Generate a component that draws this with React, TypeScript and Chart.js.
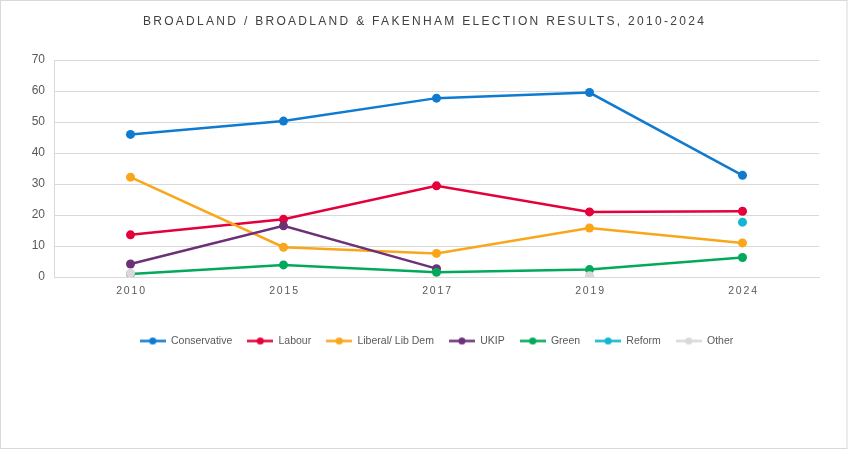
import React, { useEffect, useRef } from "react";
import { Chart, registerables } from "chart.js";

Chart.register(...registerables);

const years = ["2010", "2015", "2017", "2019", "2024"];
const conservative = [46.0, 50.3, 57.7, 59.5, 32.8];
const labour = [13.6, 18.6, 29.4, 21.0, 21.2];
const libDem = [32.2, 9.6, 7.6, 15.8, 11.0];
const ukip = [4.2, 16.5, 2.7, null, null];
const green = [1.0, 3.9, 1.5, 2.4, 6.3];
const reform = [null, null, null, null, 17.7];
const other = [1.2, null, null, 0.4, null];

const seriesNames = ["Conservative", "Labour", "Liberal/ Lib Dem", "UKIP", "Green", "Reform", "Other"];
const seriesColors = ["#0F7BD0", "#E4003B", "#FAA61A", "#6D3177", "#02A95B", "#12B6CF", "#D9D9D9"];
const seriesValues = [conservative, labour, libDem, ukip, green, reform, other];

const yMin = 0;
const yMax = 70;
const yStep = 10;

const titleText = "BROADLAND / BROADLAND & FAKENHAM ELECTION RESULTS, 2010-2024";

function makeLegendMarker(color: string): HTMLCanvasElement {
  const c = document.createElement("canvas");
  c.width = 26;
  c.height = 11;
  const g = c.getContext("2d")!;
  g.strokeStyle = color;
  g.lineWidth = 2.5;
  g.beginPath();
  g.moveTo(0, 5.5);
  g.lineTo(26, 5.5);
  g.stroke();
  g.fillStyle = color;
  g.beginPath();
  g.arc(13, 5.5, 3.6, 0, Math.PI * 2);
  g.fill();
  return c;
}

const stylePlugin = {
  id: "styling",
  afterLayout(chart: any) {
    const lg = chart.legend;
    if (lg) {
      lg.left += 27;
      lg.right += 27;
    }
    const tb = chart.titleBlock;
    if (tb) {
      tb.left += 15;
      tb.right += 15;
    }
  },
  beforeDraw(chart: any) {
    const ctx = chart.ctx;
    ctx.save();
    ctx.fillStyle = "#ffffff";
    ctx.fillRect(0, 0, chart.width, chart.height);
    ctx.strokeStyle = "#D9D9D9";
    ctx.lineWidth = 1;
    ctx.strokeRect(0.5, 0.5, chart.width - 1.5, chart.height - 1);
    ctx.restore();
    const tb = chart.titleBlock;
    if (tb && !tb._spaced) {
      const orig = tb.draw.bind(tb);
      tb.draw = (...a: any[]) => {
        ctx.save();
        ctx.letterSpacing = "2.3px";
        orig(...a);
        ctx.restore();
      };
      tb._spaced = true;
    }
    const xs = chart.scales.x;
    if (xs && !xs._spaced) {
      const orig = xs.drawLabels.bind(xs);
      xs.drawLabels = (...a: any[]) => {
        ctx.save();
        ctx.letterSpacing = "1.8px";
        ctx.translate(1, 0);
        orig(...a);
        ctx.restore();
      };
      xs._spaced = true;
    }
  },
};

export default function App() {
  const ref = useRef<HTMLCanvasElement | null>(null);

  useEffect(() => {
    if (!ref.current) return;
    const markers = seriesColors.map((c) => makeLegendMarker(c));
    const datasets = seriesNames.map((name, i) => ({
      label: name,
      data: seriesValues[i],
      borderColor: seriesColors[i],
      backgroundColor: seriesColors[i],
      pointBackgroundColor: seriesColors[i],
      pointBorderColor: seriesColors[i],
      pointRadius: 4.5,
      pointBorderWidth: 0,
      borderWidth: 2.5,
      tension: 0,
      spanGaps: false,
      order: seriesNames.length - i,
    }));

    const chart = new Chart(ref.current, {
      type: "line",
      data: { labels: years, datasets },
      plugins: [stylePlugin],
      options: {
        responsive: false,
        animation: false,
        layout: { padding: { left: 0, right: 29, top: 0, bottom: 92.75 } },
        plugins: {
          title: {
            display: true,
            text: titleText,
            color: "#404040",
            font: { family: "'Liberation Sans', Arial, sans-serif", size: 12, weight: "normal" },
            padding: { top: 14.8, bottom: 30.8 },
          },
          legend: {
            display: true,
            position: "bottom",
            labels: {
              usePointStyle: true,
              pointStyleWidth: 26,
              padding: 15,
              color: "#595959",
              font: { family: "'Liberation Sans', Arial, sans-serif", size: 10.5 },
              generateLabels: () =>
                seriesNames.map((name, i) => ({
                  text: name,
                  fillStyle: seriesColors[i],
                  strokeStyle: seriesColors[i],
                  fontColor: "#595959",
                  lineWidth: 0,
                  pointStyle: markers[i] as any,
                  hidden: false,
                  datasetIndex: i,
                })),
            },
          },
          tooltip: { enabled: false },
        },
        scales: {
          x: {
            type: "category",
            offset: true,
            grid: { display: false, drawTicks: false },
            border: { display: true, color: "#D9D9D9", width: 1 },
            ticks: {
              color: "#595959",
              padding: 8,
              font: { family: "'Liberation Sans', Arial, sans-serif", size: 10.5 },
            },
            afterFit: (s: any) => {
              s.height = 43.75;
            },
          },
          y: {
            min: yMin,
            max: yMax,
            grid: { color: "#D9D9D9", drawTicks: false, lineWidth: 1 },
            border: { display: true, color: "#D9D9D9", width: 1 },
            ticks: {
              stepSize: yStep,
              color: "#595959",
              padding: 9,
              font: { family: "'Liberation Sans', Arial, sans-serif", size: 12 },
            },
            afterFit: (s: any) => {
              s.width = 54;
            },
          },
        },
      },
    });
    return () => chart.destroy();
  }, []);

  return (
    <div style={{ position: "absolute", left: 0, top: 0, width: 848, height: 449 }}>
      <canvas ref={ref} width={848} height={449} style={{ display: "block", width: 848, height: 449 }} />
    </div>
  );
}
